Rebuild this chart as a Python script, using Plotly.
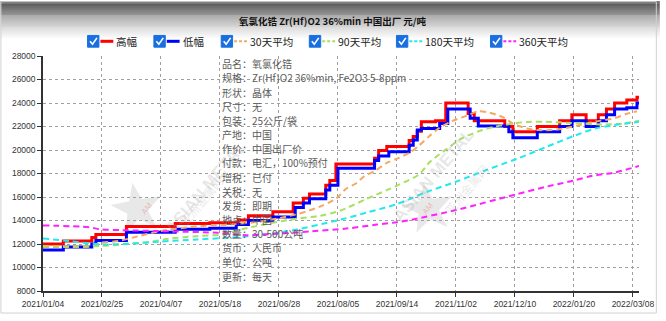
import math
import plotly.graph_objects as go

# ---------------- data (x = trading-day index) ----------------
tick_pos = [0, 29, 58, 87, 116, 145, 174, 203, 232, 261, 290]
tick_labels = ["2021/01/04", "2021/02/25", "2021/04/07", "2021/05/18", "2021/06/28",
               "2021/08/05", "2021/09/14", "2021/11/02", "2021/12/10", "2022/01/20", "2022/03/08"]

high_x = [0, 10, 24, 26, 41, 65, 82, 96, 101, 113, 123, 128, 131, 139, 141, 144, 163, 165, 169,
          180, 182, 184, 186, 193, 198, 209, 212, 227, 231, 243, 254, 260, 267, 273, 277, 281, 287, 292, 293]
high_y = [12000, 12250, 12550, 12800, 13500, 13750, 13800, 14050, 14400, 14750, 15500, 15900, 16250,
          17000, 17400, 18800, 19300, 19950, 20300, 20800, 21150, 21600, 22400, 22500, 24000, 23100,
          22500, 22000, 21550, 22000, 22500, 23000, 22500, 23000, 23500, 24000, 24250, 24500, 24500]

low_x = [0, 10, 24, 26, 41, 65, 82, 95, 101, 113, 124, 128, 131, 139, 141, 145, 163, 165, 170,
         180, 182, 184, 186, 195, 199, 210, 214, 229, 231, 243, 254, 260, 267, 273, 277, 281, 287, 292, 293]
low_y = [11500, 11750, 12000, 12300, 13000, 13250, 13350, 13650, 14000, 14300, 15100, 15500, 15850,
         16600, 17000, 18450, 19100, 19500, 19850, 20400, 20850, 21700, 21830, 22250, 23500, 22700,
         22050, 21550, 21050, 21550, 22000, 22500, 22000, 22500, 23000, 23500, 23600, 24000, 24000]

ma30_x = [0, 13, 24, 28, 37, 47, 57, 76, 91, 106, 124, 136, 144, 149, 154, 158, 163, 169, 175, 180,
          185, 190, 195, 201, 208, 214, 219, 226, 231, 238, 243, 250, 256, 265, 274, 281, 287, 292]
ma30_y = [11750, 11750, 11800, 12100, 12250, 12670, 13080, 13500, 13650, 13900, 14500, 15170, 15850,
          16700, 17170, 17780, 18200, 18900, 19330, 19750, 20400, 21200, 21900, 22450, 22900, 23300,
          23200, 22800, 22250, 21830, 21700, 21700, 21830, 22170, 22500, 22700, 23080, 23300]

ma90_x = [0, 28, 41, 52, 62, 76, 89, 96, 121, 136, 146, 159, 169, 175, 185, 190, 198, 206, 216,
          222, 231, 238, 247, 260, 275, 285, 293]
ma90_y = [11800, 11830, 12000, 12170, 12450, 12670, 12830, 13190, 14060, 14400, 14830, 15830, 16580,
          17050, 17940, 18950, 20030, 21000, 21700, 21970, 22250, 22390, 22400, 22300, 22170, 22250, 22500]

ma180_x = [0, 13, 28, 42, 57, 76, 91, 100, 120, 146, 159, 174, 189, 203, 218, 233, 248, 261, 272, 293]
ma180_y = [12470, 12250, 11970, 12020, 12200, 12390, 12530, 12650, 13080, 14060, 14670, 15400, 16450,
           17300, 18300, 19250, 20300, 21200, 21850, 22400]

ma360_x = [0, 23, 28, 39, 62, 86, 100, 115, 132, 150, 164, 174, 181, 203, 232, 248, 261, 270, 281, 293]
ma360_y = [13580, 13420, 13250, 13180, 13080, 12950, 12750, 12880, 13080, 13330, 13650, 13850, 14060,
           14890, 16200, 16900, 17400, 17800, 18080, 18640]

series_names = ["高幅", "低幅", "30天平均", "90天平均", "180天平均", "360天平均"]
colors = ["#ff0000", "#0000ff", "#f4a862", "#a8e060", "#22e8f0", "#ff22ff"]

info_lines = ["品名：氧氯化锆", "规格：Zr(Hf)O2 36%min, Fe2O3 5-8ppm", "形状：晶体", "尺寸：无",
              "包装：25公斤/袋", "产地：中国", "作价：中国出厂价", "付款：电汇，100%预付",
              "增税：已付", "关税：无", "发货：即期", "地点：中国", "数量：30-500公吨",
              "货币：人民币", "单位：公吨", "更新：每天"]

title_text = "氧氯化锆 Zr(Hf)O2 36%min 中国出厂 元/吨"

# ---------------- layout helpers ----------------
W, H = 666, 321
L, R, T, B = 43, 21, 56, 25
PW, PH = W - L - R, H - T - B


def px(x):
    return (x - L) / PW


def py(y):
    return (H - B - y) / PH


CJK = "Noto Sans CJK SC"

fig = go.Figure()

fig.add_trace(go.Scatter(x=high_x, y=high_y, mode="lines", name=series_names[0],
                         line=dict(color=colors[0], width=3, shape="hv")))
fig.add_trace(go.Scatter(x=low_x, y=low_y, mode="lines", name=series_names[1],
                         line=dict(color=colors[1], width=3, shape="hv")))
for nm, xs, ys, c in [(series_names[2], ma30_x, ma30_y, colors[2]),
                      (series_names[3], ma90_x, ma90_y, colors[3]),
                      (series_names[4], ma180_x, ma180_y, colors[4]),
                      (series_names[5], ma360_x, ma360_y, colors[5])]:
    fig.add_trace(go.Scatter(x=xs, y=ys, mode="lines", name=nm,
                             line=dict(color=c, width=2, dash="6px,4px", shape="spline", smoothing=0.8)))

shapes = []
# header gradient
for i in range(40):
    g = int(0x4a + (0xff - 0x4a) * min(1.0, (i / 38.0) ** 0.85))
    shapes.append(dict(type="rect", xref="paper", yref="paper", layer="below",
                       x0=px(0), x1=px(W), y0=py(i + 1), y1=py(i),
                       fillcolor=f"rgb({g},{g},{g})", line=dict(width=0)))
# panel border
shapes.append(dict(type="rect", xref="paper", yref="paper", x0=px(0.5), x1=px(662.5),
                   y0=py(318.5), y1=py(0.5), line=dict(color="#d0d0d0", width=1)))


def star_path(cx, cy, r_out, r_in, rot):
    pts = []
    for k in range(10):
        r = r_out if k % 2 == 0 else r_in
        a = math.radians(rot + k * 36)
        pts.append((px(cx + r * math.cos(a)), py(cy - r * math.sin(a))))
    return "M " + " L ".join(f"{a} {b}" for a, b in pts) + " Z"


annotations = []
# watermark logos
for (sx, sy) in [(138, 212), (432, 212)]:
    shapes.append(dict(type="path", xref="paper", yref="paper", layer="below",
                       path=star_path(sx, sy, 27, 11, 100),
                       fillcolor="rgba(190,190,190,0.35)", line=dict(width=0)))
    annotations.append(dict(text="AM", xref="paper", yref="paper", x=px(sx), y=py(sy),
                            showarrow=False, textangle=-50,
                            font=dict(family="Liberation Sans", size=8, color="rgba(230,120,120,0.45)")))

annotations.append(dict(text="<b>" + title_text + "</b>", xref="paper", yref="paper",
                        x=px(336), y=py(20), showarrow=False, xanchor="center", yanchor="middle",
                        font=dict(family=CJK, size=9.5, color="#111")))

# custom legend with checkboxes
cb_left = [88, 155, 223, 312, 400, 495]
ly = 41
for i, nm in enumerate(series_names):
    cx = cb_left[i]
    shapes.append(dict(type="rect", xref="paper", yref="paper",
                       x0=px(cx), x1=px(cx + 11.5), y0=py(ly + 6), y1=py(ly - 6),
                       fillcolor="#1a6fe0", line=dict(color="#1a6fe0", width=1)))
    shapes.append(dict(type="path", xref="paper", yref="paper",
                       path=f"M {px(cx + 2.5)} {py(ly)} L {px(cx + 5)} {py(ly + 3)} L {px(cx + 9.5)} {py(ly - 3.5)}",
                       line=dict(color="white", width=1.6)))
    dash = "solid" if i < 2 else "3px,2px"
    shapes.append(dict(type="line", xref="paper", yref="paper",
                       x0=px(cx + 13), x1=px(cx + 26), y0=py(ly), y1=py(ly),
                       line=dict(color=colors[i], width=3 if i < 2 else 2, dash=dash)))
    annotations.append(dict(text=nm, xref="paper", yref="paper", x=px(cx + 27), y=py(ly),
                            showarrow=False, xanchor="left", yanchor="middle",
                            font=dict(family=CJK, size=10.5, color="#222")))

# watermark text
for (wx, wy) in [(160, 190), (485, 178)]:
    annotations.append(dict(text="<b>ASIAN METAL</b>", xref="paper", yref="paper",
                            x=px(wx), y=py(wy), showarrow=False, textangle=-50,
                            font=dict(family="Liberation Sans", size=17, color="rgba(160,160,160,0.25)")))
    annotations.append(dict(text="亚洲金属网", xref="paper", yref="paper",
                            x=px(wx + 14), y=py(wy + 14), showarrow=False, textangle=-50,
                            font=dict(family=CJK, size=12, color="rgba(160,160,160,0.25)")))

# info text
for i, line in enumerate(info_lines):
    annotations.append(dict(text=line, xref="paper", yref="paper", x=px(221.5), y=py(64 + 14.45 * i),
                            showarrow=False, xanchor="left", yanchor="middle",
                            font=dict(family=CJK, size=10, color="#5a5a5a")))

fig.update_layout(
    width=W, height=H, margin=dict(l=L, r=R, t=T, b=B, pad=0),
    paper_bgcolor="white", plot_bgcolor="white", showlegend=False,
    shapes=shapes, annotations=annotations,
    xaxis=dict(range=[0, 293], tickmode="array", tickvals=tick_pos, ticktext=tick_labels,
               showgrid=True, gridcolor="#a0a0a0", griddash="dot", gridwidth=1,
               showline=True, linecolor="#333", linewidth=1.5, ticks="outside", ticklen=4,
               tickcolor="#333", zeroline=False,
               tickfont=dict(family="Liberation Sans", size=8.5, color="#333")),
    yaxis=dict(range=[8000, 28000], dtick=2000, tick0=8000, tickformat="d",
               showgrid=True, gridcolor="#a0a0a0", griddash="dot", gridwidth=1,
               showline=True, linecolor="#333", linewidth=1.5, ticks="outside", ticklen=4,
               tickcolor="#333", zeroline=False,
               tickfont=dict(family="Liberation Sans", size=8.5, color="#333")),
)

fig.write_html("out.html")
